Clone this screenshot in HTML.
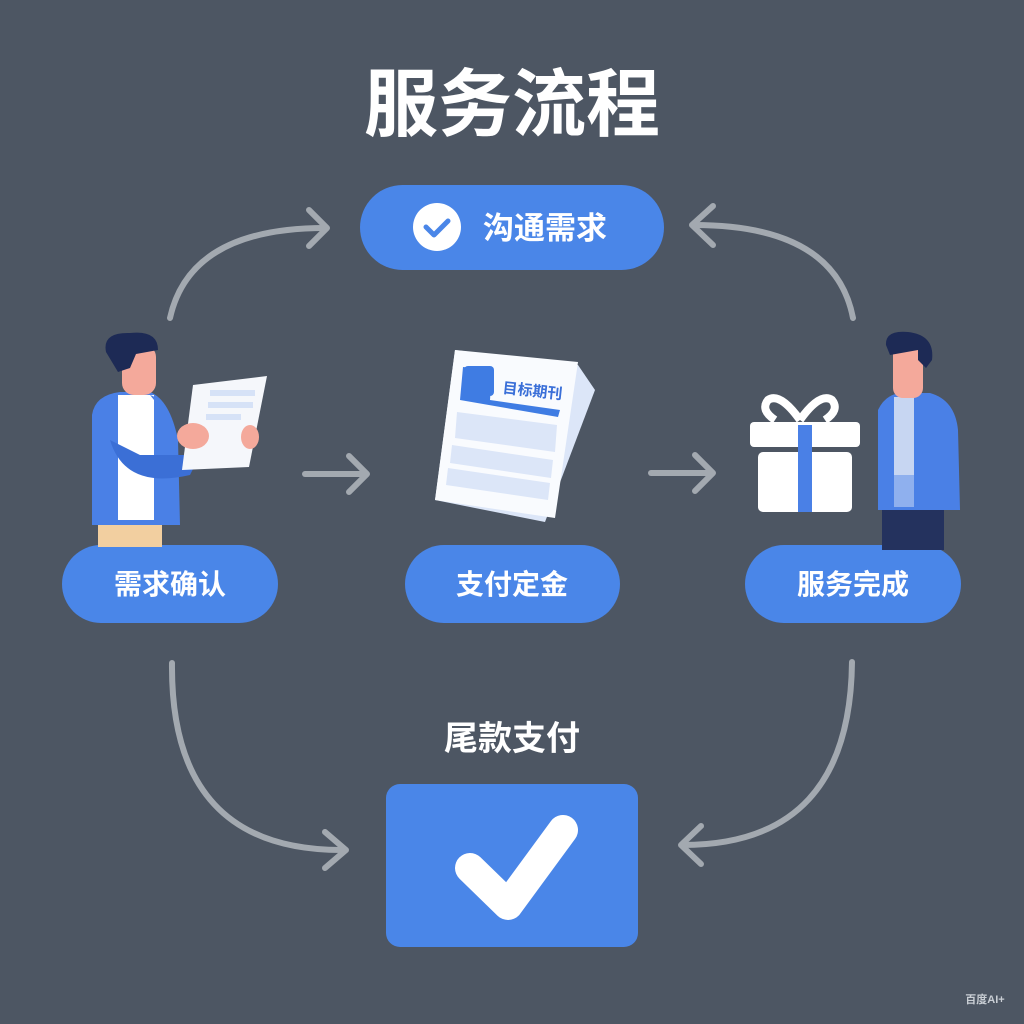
<!DOCTYPE html>
<html><head><meta charset="utf-8"><style>
html,body{margin:0;padding:0;background:#4d5663;}
svg{display:block}
text{font-family:"Liberation Sans","Noto Sans CJK SC",sans-serif;fill:#fff;font-weight:bold;}
</style></head><body>
<svg width="1024" height="1024" viewBox="0 0 1024 1024" xmlns="http://www.w3.org/2000/svg">
<rect width="1024" height="1024" fill="#4d5663"/>
<text x="512" y="130" font-size="74" text-anchor="middle">服务流程</text>

<!-- arrows -->
<g fill="none" stroke="#a3a9b0" stroke-width="6" stroke-linecap="round" stroke-linejoin="round">
<path d="M170 318 Q190 228 325 228"/><path d="M309 210 L327 228 L309 246"/>
<path d="M853 318 Q835 225 694 225"/><path d="M713 206 L692 225 L713 245"/>
<path d="M172 663 Q170 852 345 850"/><path d="M325 832 L346 850 L325 868"/>
<path d="M852 662 Q850 845 683 845"/><path d="M701 826 L681 845 L701 864"/>
<path d="M305 474 L365 474"/><path d="M349 456 L367 474 L349 492"/>
<path d="M651 473 L711 473"/><path d="M695 455 L713 473 L695 491"/>
</g>

<!-- top pill -->
<rect x="360" y="185" width="304" height="85" rx="42.5" fill="#4a86e8"/>
<circle cx="437" cy="227" r="24" fill="#fff"/>
<path d="M426 227 L434 235 L448 221" fill="none" stroke="#4a86e8" stroke-width="5" stroke-linecap="round" stroke-linejoin="round"/>
<text x="545" y="239" font-size="31" text-anchor="middle">沟通需求</text>

<!-- pills -->
<rect x="62" y="545" width="216" height="78" rx="39" fill="#4a86e8"/>
<text x="170" y="594" font-size="28" text-anchor="middle">需求确认</text>
<rect x="405" y="545" width="215" height="78" rx="39" fill="#4a86e8"/>
<text x="512" y="594" font-size="28" text-anchor="middle">支付定金</text>
<rect x="745" y="545" width="216" height="78" rx="39" fill="#4a86e8"/>
<text x="853" y="594" font-size="28" text-anchor="middle">服务完成</text>

<text x="512" y="750" font-size="34" text-anchor="middle">尾款支付</text>
<rect x="386" y="784" width="252" height="163" rx="14" fill="#4a86e8"/>
<path d="M470 868 L508 905 L563 830" fill="none" stroke="#fff" stroke-width="30" stroke-linecap="round" stroke-linejoin="round"/>

<!-- left person -->
<rect x="98" y="515" width="64" height="32" fill="#f2cfa0"/>
<path d="M92 415 Q95 395 120 392 L150 392 Q170 400 178 440 L180 525 L92 525 Z" fill="#4a80e6"/>
<rect x="118" y="395" width="36" height="125" fill="#fff"/>
<path d="M92 415 L92 525 L118 525 L118 400 Z" fill="#4a80e6"/>
<path d="M150 395 Q168 400 176 440 L178 525 L154 525 L154 400Z" fill="#4a80e6"/>
<path d="M110 440 Q125 490 190 475 L200 455 L140 455 Z" fill="#3b6fd6"/>
<rect x="122" y="345" width="34" height="50" rx="12" fill="#f4a99b"/>
<path d="M106 352 Q102 332 130 333 Q158 330 158 350 L136 354 L130 368 L118 372 Z" fill="#1d2a55"/>
<polygon points="193,385 267,376 249,467 182,470" fill="#f5f7fb"/>
<rect x="210" y="390" width="45" height="6" fill="#d6e2f7"/>
<rect x="208" y="402" width="45" height="6" fill="#d6e2f7"/>
<rect x="206" y="414" width="35" height="6" fill="#d6e2f7"/>
<ellipse cx="193" cy="436" rx="16" ry="13" fill="#f4a99b"/>
<ellipse cx="250" cy="437" rx="9" ry="12" fill="#f4a99b"/>

<!-- document -->
<polygon points="455,350 578,365 595,390 545,522 435,500" fill="#dce6f8"/>
<polygon points="455,350 578,362 555,518 435,500" fill="#f9fbfe"/>
<path d="M463 367 L492 370 L490 400 L560 410 L558 417 L460 400 Z" fill="#3f7ce3"/>
<rect x="464" y="366" width="30" height="30" rx="4" fill="#3f7ce3"/>
<text x="532" y="396" font-size="15" fill="#3a6fd8" style="fill:#3a6fd8" text-anchor="middle" transform="rotate(6 532 396)">目标期刊</text>
<polygon points="457,412 557,425 555,452 455,438" fill="#dce6f8"/>
<polygon points="452,445 553,460 551,478 450,463" fill="#dce6f8"/>
<polygon points="448,468 550,483 548,500 446,485" fill="#dce6f8"/>

<!-- gift -->
<path d="M800 420 Q780 392 768 400 Q760 410 775 420 M800 420 Q820 392 832 400 Q840 410 825 420" fill="none" stroke="#fff" stroke-width="8"/>
<rect x="750" y="422" width="110" height="25" rx="4" fill="#fff"/>
<rect x="758" y="452" width="94" height="60" rx="5" fill="#fff"/>
<rect x="798" y="425" width="14" height="87" fill="#4a80e6"/>

<!-- right person -->
<rect x="882" y="505" width="62" height="45" fill="#24325e"/>
<path d="M878 410 Q885 395 900 393 L930 393 Q955 400 958 430 L960 510 L878 510 Z" fill="#4a80e6"/>
<rect x="894" y="397" width="20" height="110" fill="#c7d6f2"/>
<rect x="894" y="475" width="20" height="32" fill="#8fb0ee"/>
<rect x="893" y="343" width="30" height="55" rx="10" fill="#f4a99b"/>
<path d="M886 345 Q885 330 908 332 Q935 335 932 360 L926 368 L918 360 L918 350 L890 355 Z" fill="#1d2a55"/>

<text x="985" y="1003" font-size="11" text-anchor="middle" style="fill:#c9ced4">百度AI+</text>
</svg>
</body></html>
